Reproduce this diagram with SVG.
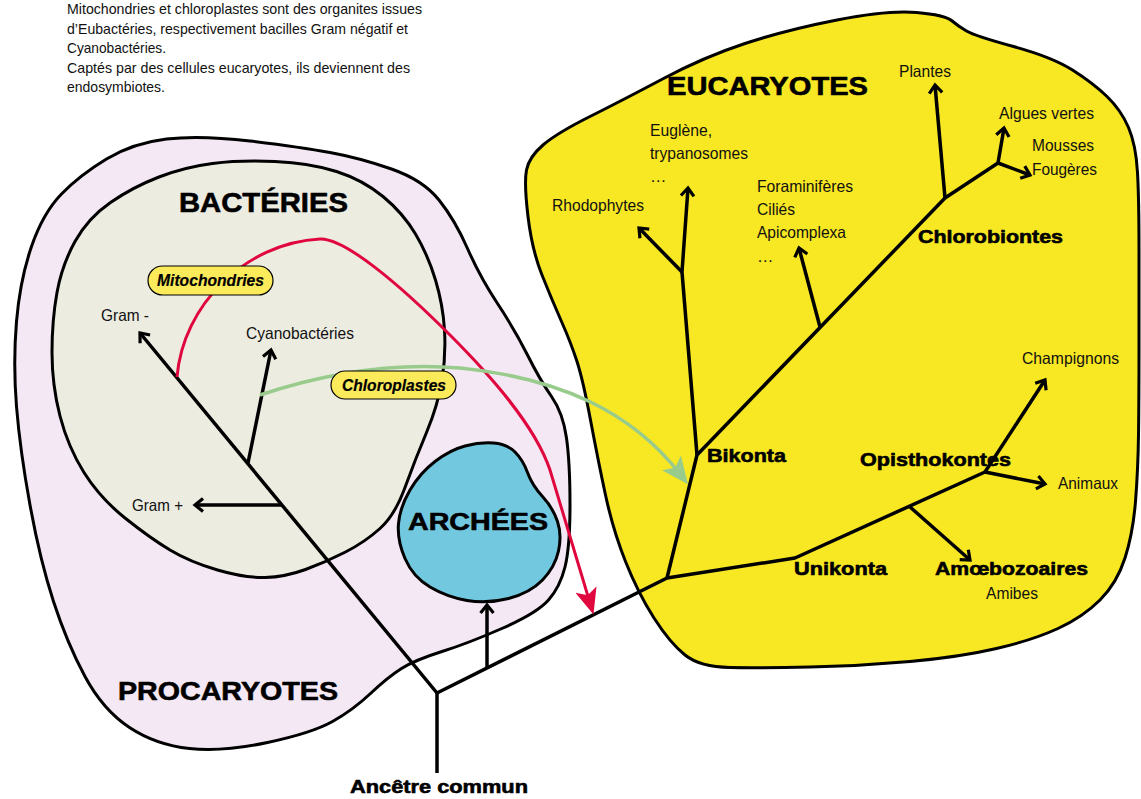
<svg xmlns="http://www.w3.org/2000/svg" width="1141" height="799" viewBox="0 0 1141 799">
<style>
.blob{stroke:#000;stroke-width:3;stroke-linejoin:round}
.br{fill:none;stroke:#000;stroke-width:3.5;stroke-linejoin:round;stroke-linecap:butt}
.arr{marker-end:url(#chev)}
.t{font-family:"Liberation Sans",Arial,sans-serif;font-size:16.5px;fill:#111}
.p{font-family:"Liberation Sans",Arial,sans-serif;font-size:15px;fill:#111}
.b{font-family:"Liberation Sans",Arial,sans-serif;font-weight:bold;fill:#000;stroke:#000;stroke-width:0.6;stroke-linejoin:round}
.pill{fill:#FBEB5B;stroke:#000;stroke-width:1.2}
.pt{font-family:"Liberation Sans",Arial,sans-serif;font-weight:bold;font-style:italic;font-size:17px;fill:#000;stroke:#000;stroke-width:0.2}
</style>
<defs>
<marker id="chev" viewBox="-10 -8 12 16" refX="0" refY="0" markerWidth="12" markerHeight="16" markerUnits="userSpaceOnUse" orient="auto" overflow="visible">
<path d="M-8,-6.5 L0,0 L-8,6.5" fill="none" stroke="#000" stroke-width="3.2" stroke-linejoin="miter"/>
</marker>
<marker id="redhead" viewBox="0 -12 28 24" refX="14" refY="0" markerWidth="28" markerHeight="24" markerUnits="userSpaceOnUse" orient="auto">
<path d="M0,-11 L26,0 L0,11 L6,0 Z" fill="#E0073F"/>
</marker>
<marker id="greenhead" viewBox="0 -13 28 26" refX="14" refY="0" markerWidth="28" markerHeight="26" markerUnits="userSpaceOnUse" orient="auto">
<path d="M0,-12 L27,0 L0,12 L6,0 Z" fill="#98CB8C"/>
</marker>
</defs>

<g id="procaryotes">
<path class="blob" fill="#F4E8F4" d="M250,141 Q300,147 330,152.5 Q360,158 391.5,169 Q423,180 439,200 Q455,220 467.5,248.5 Q480,277 497.5,303.5 Q515,330 527.5,355 Q540,380 551.5,396.5 Q563,413 566.5,438 Q570,463 570,505 Q570,547 565,567 Q560,587 548.5,600 Q537,613 503,628 Q469,643 442,651.5 Q415,660 401.5,668.5 Q388,677 370.5,693.5 Q353,710 332.5,721.5 Q312,733 267.5,742.5 Q223,752 189.5,748.5 Q156,745 129.5,727.5 Q103,710 85,676.5 Q67,643 53.5,601.5 Q40,560 30,505 Q20,450 16.5,406.5 Q13,363 16.5,321.5 Q20,280 31.5,246.5 Q43,213 61.5,194 Q80,175 106.5,159 Q133,143 166.5,139 Q200,135 250,141 Z"/>
<text class="b" x="118" y="700" font-size="26" textLength="220" lengthAdjust="spacingAndGlyphs">PROCARYOTES</text>
</g>

<g id="bacteries">
<path class="blob" fill="#EDECE1" d="M275,161.5 Q310,163 336.5,171.5 Q363,180 383,196.5 Q403,213 415.5,234 Q428,255 435.5,280 Q443,305 444.5,330 Q446,355 442,380 Q438,405 426.5,432.5 Q415,460 405,487.5 Q395,515 380,528.5 Q365,542 345.5,552 Q326,562 305.5,569.5 Q285,577 265,577.5 Q245,578 217.5,570 Q190,562 170,550 Q150,538 125,518 Q100,498 84,472.5 Q68,447 60,416 Q52,385 52,352.5 Q52,320 57,292.5 Q62,265 75,241.5 Q88,218 110.5,202.5 Q133,187 159,177 Q185,167 212.5,163.5 Q240,160 275,161.5 Z"/>
<text class="b" x="179" y="212" font-size="28" textLength="169" lengthAdjust="spacingAndGlyphs">BACTÉRIES</text>
</g>

<g id="archees">
<path class="blob" fill="#72C9DF" d="M493.5,443 Q507,444 515,452 Q523,460 527.5,472.5 Q532,485 542.5,496.5 Q553,508 557.5,521.5 Q562,535 558.5,551 Q555,567 542.5,580 Q530,593 508.5,598.5 Q487,604 467,600.5 Q447,597 430,587 Q413,577 405,558.5 Q397,540 398.5,523.5 Q400,507 410,490 Q420,473 435,461.5 Q450,450 465,446 Q480,442 493.5,443 Z"/>
<text class="b" x="408" y="530" font-size="24" textLength="140" lengthAdjust="spacingAndGlyphs">ARCHÉES</text>
</g>

<g id="eucaryotes">
<path class="blob" fill="#F8E723" d="M526.5,170 Q529,157 543,145 Q557,133 590,116.5 Q623,100 663.5,78.5 Q704,57 745,43.5 Q786,30 837,20 Q888,10 916.5,12.5 Q945,15 951.5,20.5 Q958,26 966.5,31 Q975,36 1013.5,46.5 Q1052,57 1072.5,70 Q1093,83 1107,96.5 Q1121,110 1128.5,127.5 Q1136,145 1137.5,172.5 Q1139,200 1139,250 Q1139,300 1139,350 Q1139,400 1138.5,435 Q1138,470 1135.5,501.5 Q1133,533 1125,558 Q1117,583 1100,600 Q1083,617 1058,628.5 Q1033,640 996.5,648.5 Q960,657 910,661.5 Q860,666 810,667 Q760,668 730,667.5 Q700,667 685,655 Q670,643 654,618 Q638,593 625.5,561.5 Q613,530 605.5,495 Q598,460 590.5,420 Q583,380 577,361.5 Q571,343 561.5,321.5 Q552,300 542,275 Q532,250 528,216.5 Q524,183 526.5,170 Z"/>
<text class="b" x="667" y="95" font-size="26" textLength="201" lengthAdjust="spacingAndGlyphs">EUCARYOTES</text>
</g>

<g id="connectors">
<path class="br" d="M437,773 L437,693"/>
<path class="br arr" d="M437,693 L140,333"/>
<path class="br arr" d="M282,505 L195,505"/>
<path class="br arr" d="M248,463 L271,350"/>
<path class="br" d="M437,693 L667,578"/>
<path class="br arr" d="M487,668 L487,605"/>
<path class="br" d="M667,578 L697,455 L945,198"/>
<path class="br arr" d="M697,455 L682,272 L688,188"/>
<path class="br arr" d="M682,272 L639,228"/>
<path class="br arr" d="M820,327 L799,248"/>
<path class="br arr" d="M945,198 L935,85"/>
<path class="br" d="M945,198 L998,163"/>
<path class="br arr" d="M998,163 L1004,128"/>
<path class="br arr" d="M998,163 L1030,175"/>
<path class="br" d="M667,578 L795,558 L985,472"/>
<path class="br arr" d="M910,507 L970,560"/>
<path class="br arr" d="M985,472 L1045,380"/>
<path class="br arr" d="M985,472 L1045,484"/>
<path fill="none" stroke="#E0073F" stroke-width="3" marker-end="url(#redhead)" d="M177,377 C183,305 245,243 320,239 C345,238 400,285 450,335 C490,375 535,425 550,470 L590,603"/>
<path fill="none" stroke="#98CB8C" stroke-width="3.5" marker-end="url(#greenhead)" d="M260,395 C320,375 390,362 460,368 C560,378 632,412 680,474"/>
</g>

<g id="paragraph">
<text class="p" x="67" y="14" textLength="355" lengthAdjust="spacingAndGlyphs">Mitochondries et chloroplastes sont des organites issues</text>
<text class="p" x="67" y="33.5" textLength="341" lengthAdjust="spacingAndGlyphs">d’Eubactéries, respectivement bacilles Gram négatif et</text>
<text class="p" x="67" y="53" textLength="99" lengthAdjust="spacingAndGlyphs">Cyanobactéries.</text>
<text class="p" x="67" y="72.5" textLength="343" lengthAdjust="spacingAndGlyphs">Captés par des cellules eucaryotes, ils deviennent des</text>
<text class="p" x="67" y="92" textLength="98" lengthAdjust="spacingAndGlyphs">endosymbiotes.</text>
</g>

<g id="mitochondries">
<rect class="pill" x="148" y="266" width="125" height="29" rx="14.5"/>
<text class="pt" x="157" y="286" textLength="107" lengthAdjust="spacingAndGlyphs">Mitochondries</text>
</g>
<g id="chloroplastes">
<rect class="pill" x="331" y="371" width="125" height="28" rx="14"/>
<text class="pt" x="342" y="391" textLength="104" lengthAdjust="spacingAndGlyphs">Chloroplastes</text>
</g>

<g id="gram-moins"><text class="t" x="101" y="321" textLength="48" lengthAdjust="spacingAndGlyphs">Gram -</text></g>
<g id="cyanobacteries"><text class="t" x="246" y="339" textLength="108" lengthAdjust="spacingAndGlyphs">Cyanobactéries</text></g>
<g id="gram-plus"><text class="t" x="132" y="511" textLength="51" lengthAdjust="spacingAndGlyphs">Gram +</text></g>
<g id="ancetre"><text class="b" x="350" y="793" font-size="18.5" textLength="178" lengthAdjust="spacingAndGlyphs">Ancêtre commun</text></g>

<g id="bikonta"><text class="b" x="707" y="462" font-size="18.5" textLength="79" lengthAdjust="spacingAndGlyphs">Bikonta</text></g>
<g id="opisthokontes"><text class="b" x="860" y="466" font-size="18.5" textLength="151" lengthAdjust="spacingAndGlyphs">Opisthokontes</text></g>
<g id="unikonta"><text class="b" x="794" y="575" font-size="18.5" textLength="93" lengthAdjust="spacingAndGlyphs">Unikonta</text></g>
<g id="amoebozoaires">
<text class="b" x="935" y="575" font-size="18.5" textLength="153" lengthAdjust="spacingAndGlyphs">Amœbozoaires</text>
<text class="t" x="986" y="599" textLength="52" lengthAdjust="spacingAndGlyphs">Amibes</text>
</g>
<g id="chlorobiontes"><text class="b" x="918" y="243" font-size="18.5" textLength="145" lengthAdjust="spacingAndGlyphs">Chlorobiontes</text></g>
<g id="animaux"><text class="t" x="1058" y="489" textLength="60" lengthAdjust="spacingAndGlyphs">Animaux</text></g>
<g id="champignons"><text class="t" x="1022" y="364" textLength="97" lengthAdjust="spacingAndGlyphs">Champignons</text></g>
<g id="plantes"><text class="t" x="899" y="77" textLength="52" lengthAdjust="spacingAndGlyphs">Plantes</text></g>
<g id="algues"><text class="t" x="999" y="119" textLength="95" lengthAdjust="spacingAndGlyphs">Algues vertes</text></g>
<g id="mousses">
<text class="t" x="1032" y="151" textLength="62" lengthAdjust="spacingAndGlyphs">Mousses</text>
<text class="t" x="1032" y="175" textLength="65" lengthAdjust="spacingAndGlyphs">Fougères</text>
</g>
<g id="euglene">
<text class="t" x="650" y="136" textLength="62" lengthAdjust="spacingAndGlyphs">Euglène,</text>
<text class="t" x="650" y="159" textLength="98" lengthAdjust="spacingAndGlyphs">trypanosomes</text>
<text class="t" x="650" y="182">…</text>
</g>
<g id="rhodophytes"><text class="t" x="552" y="211" textLength="92" lengthAdjust="spacingAndGlyphs">Rhodophytes</text></g>
<g id="foraminiferes">
<text class="t" x="757" y="192" textLength="96" lengthAdjust="spacingAndGlyphs">Foraminifères</text>
<text class="t" x="757" y="215" textLength="38" lengthAdjust="spacingAndGlyphs">Ciliés</text>
<text class="t" x="757" y="238" textLength="89" lengthAdjust="spacingAndGlyphs">Apicomplexa</text>
<text class="t" x="757" y="262">…</text>
</g>
</svg>
